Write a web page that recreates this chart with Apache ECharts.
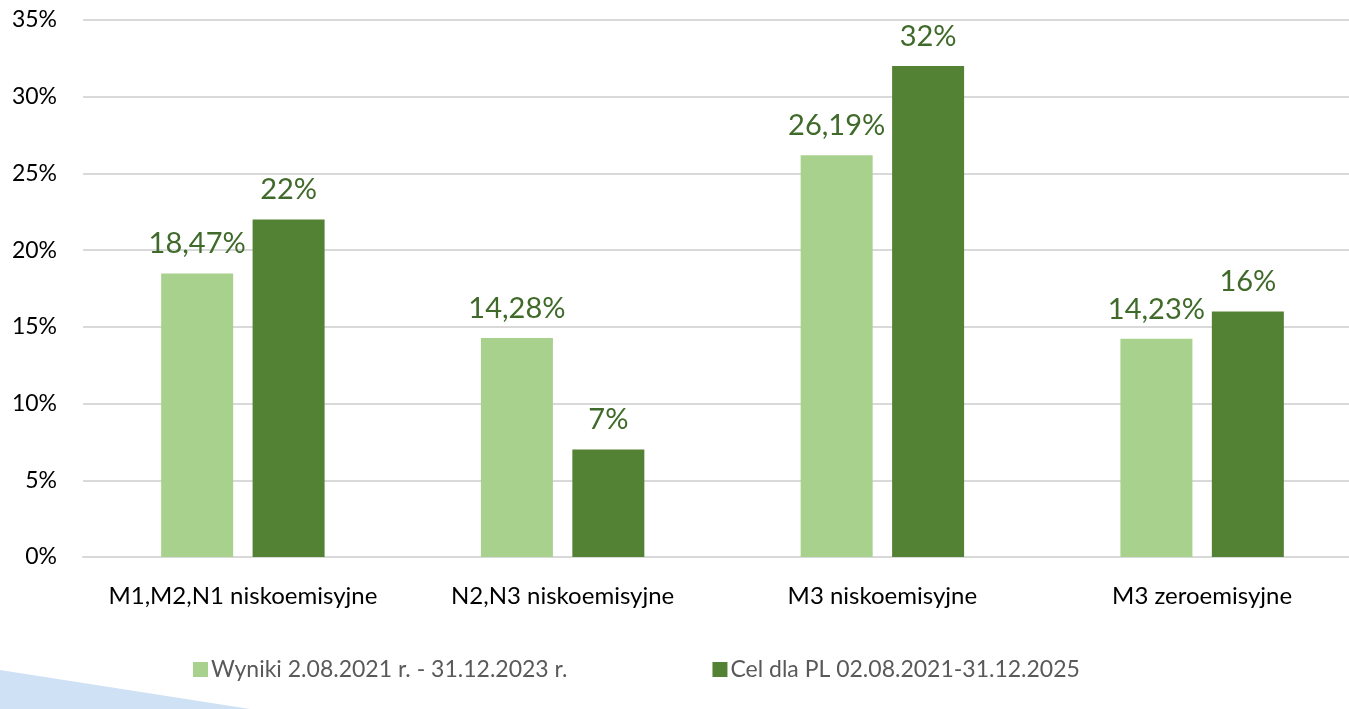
<!DOCTYPE html>
<html>
<head>
<meta charset="utf-8">
<script src="https://cdn.jsdelivr.net/npm/echarts@6/dist/echarts.min.js"></script>
<style>
  html, body { margin: 0; padding: 0; background: #fff; }
  #chart { width: 1349px; height: 709px; }
</style>
</head>
<body>
<div id="chart"></div>
<script>
var categories = ['M1,M2,N1 niskoemisyjne', 'N2,N3 niskoemisyjne', 'M3 niskoemisyjne', 'M3 zeroemisyjne'];
var seriesNames = ['Wyniki 2.08.2021 r. - 31.12.2023 r.', 'Cel dla PL 02.08.2021-31.12.2025'];
var wyniki = [18.47, 14.28, 26.19, 14.23];
var cel = [22, 7, 32, 16];
var wynikiLabels = ['18,47%', '14,28%', '26,19%', '14,23%'];
var celLabels = ['22%', '7%', '32%', '16%'];

var chart = echarts.init(document.getElementById('chart'));

var font = 'Lato, "Open Sans", sans-serif';

function labelFor(list) {
    return {
        show: true,
        position: 'top',
        distance: 15,
        fontFamily: font,
        fontSize: 29,
        color: '#3f6a2a',
        formatter: function (p) { return list[p.dataIndex]; }
    };
}

var option = {
    animation: false,
    graphic: [{
        type: 'polygon',
        left: 0,
        bottom: 0,
        z: -1,
        shape: { points: [[0, 0], [250, 39], [0, 39]] },
        style: { fill: '#cfe1f4' }
    }],
    // plot area runs a little past the right edge, like the original slide
    grid: { left: 83, width: 1279, top: 20, bottom: 152, outerBoundsMode: 'none' },
    legend: {
        left: 188,
        top: 653,
        itemWidth: 15,
        itemHeight: 15,
        itemGap: 145,
        icon: 'rect',
        textStyle: { fontFamily: font, fontSize: 23, color: '#595959', padding: [0, 0, 0, -2] },
        data: seriesNames
    },
    xAxis: {
        type: 'category',
        data: categories,
        axisTick: { show: false },
        axisLine: { lineStyle: { color: '#d9d9d9', width: 2 } },
        axisLabel: { interval: 0, hideOverlap: false, fontFamily: font, fontSize: 24, color: '#000', margin: 27 }
    },
    yAxis: {
        type: 'value',
        min: 0,
        max: 35,
        interval: 5,
        axisLine: { show: false },
        axisTick: { show: false },
        axisLabel: { fontFamily: font, fontSize: 23, color: '#000', margin: 26, formatter: '{value}%' },
        splitLine: { lineStyle: { color: '#d9d9d9', width: 2 } }
    },
    series: [{
        name: seriesNames[0],
        type: 'bar',
        data: wyniki,
        barWidth: 72,
        barGap: '27%',
        itemStyle: { color: '#a9d18e' },
        label: labelFor(wynikiLabels)
    }, {
        name: seriesNames[1],
        type: 'bar',
        data: cel,
        barWidth: 72,
        itemStyle: { color: '#548235' },
        label: labelFor(celLabels)
    }]
};

chart.setOption(option);
</script>
</body>
</html>
